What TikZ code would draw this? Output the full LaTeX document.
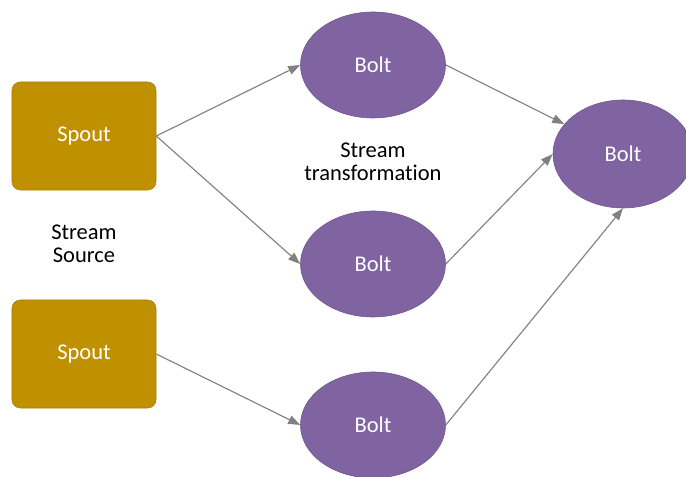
\documentclass[tikz,border=0pt]{standalone}
\usepackage{fontspec}
\setmainfont{Carlito}[Ligatures=NoCommon]
\usetikzlibrary{arrows.meta,shapes.geometric}
\definecolor{StormGold}{RGB}{191,144,0}
\definecolor{StormGoldEdge}{RGB}{170,128,0}
\definecolor{StormPurple}{RGB}{128,100,162}
\definecolor{StormPurpleEdge}{RGB}{110,86,142}
\definecolor{StormGray}{RGB}{128,128,128}
\tikzset{
  storm/spout/.style={
    rectangle,
    draw=StormGoldEdge,
    thin,
    rounded corners=6pt,
    fill=StormGold,
    text=white,
    minimum width=3.6cm,
    minimum height=2.7cm,
    inner sep=0pt,
    font=\fontsize{16}{16.5}\selectfont
  },
  storm/bolt/.style={
    ellipse,
    draw=StormPurpleEdge,
    thin,
    fill=StormPurple,
    text=white,
    minimum width=3.625cm,
    minimum height=2.65cm,
    inner sep=0pt,
    font=\fontsize{16}{16.5}\selectfont
  },
  storm/arrow/.style={-{Triangle[length=3mm,width=2.2mm]}, thick, draw=StormGray},
  storm/label/.style={font=\fontsize{16}{16.5}\selectfont, text=black, align=center}
}

\begin{document}
\begin{tikzpicture}[x=0.025cm,y=-0.025cm]
  \useasboundingbox (0,0) rectangle (686,477);
  \node[storm/spout] (spoutA) at (84,136) {Spout};
  \node[storm/spout] (spoutB) at (84,354) {Spout};
  \node[storm/bolt] (boltA) at (373,65) {Bolt};
  \node[storm/bolt] (boltB) at (373,264) {Bolt};
  \node[storm/bolt] (boltC) at (373,425) {Bolt};
  \node[storm/bolt,minimum width=3.5cm,minimum height=2.7cm] (boltSink) at (623,154) {Bolt};
  \node[storm/label] (srcLabel) at (84,244) {Stream\\Source};
  \node[storm/label] (trfLabel) at (373,162) {Stream\\transformation};
  \foreach \a/\b in {spoutA.east/boltA.west,spoutA.east/boltB.west,spoutB.east/boltC.west,
                     boltA.east/boltSink.153,boltB.east/boltSink.west,boltC.east/boltSink.south}{
    \draw[storm/arrow] (\a) -- (\b);
  }
\end{tikzpicture}
\end{document}
